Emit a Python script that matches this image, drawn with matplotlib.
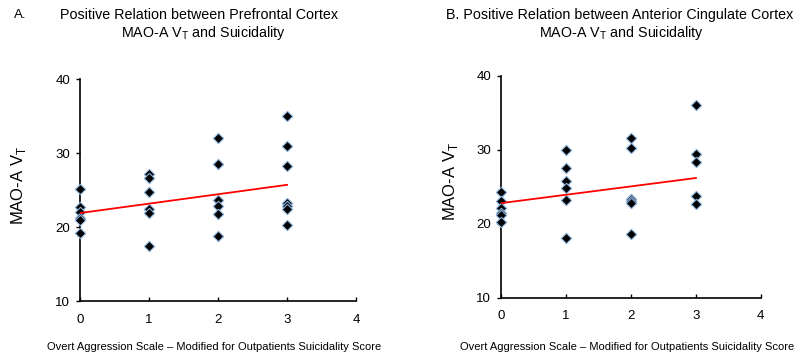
import numpy as np
import matplotlib.pyplot as plt

# Panel A: prefrontal cortex
pfc_x = [0, 0, 0, 0, 0, 0,
         1, 1, 1, 1, 1, 1,
         2, 2, 2, 2, 2, 2,
         3, 3, 3, 3, 3, 3, 3]
pfc_y = [25.1, 22.7, 22.0, 21.2, 20.9, 19.2,
         27.2, 26.6, 24.8, 22.4, 21.9, 17.5,
         32.1, 28.5, 23.6, 22.8, 21.8, 18.8,
         35.0, 31.0, 28.2, 23.2, 22.9, 22.4, 20.3]
pfc_fit = (21.9, 1.27)  # intercept, slope

# Panel B: anterior cingulate cortex
acc_x = [0, 0, 0, 0, 0, 0,
         1, 1, 1, 1, 1, 1,
         2, 2, 2, 2, 2, 2,
         3, 3, 3, 3, 3]
acc_y = [24.3, 23.1, 22.2, 21.5, 21.2, 20.3,
         30.0, 27.6, 25.8, 24.8, 23.2, 18.1,
         31.6, 30.3, 23.3, 23.1, 22.8, 18.7,
         36.0, 29.4, 28.3, 23.8, 22.7]
acc_fit = (22.8, 1.13)

xticks = [0, 1, 2, 3, 4]
yticks = [10, 20, 30, 40]
xlabel = "Overt Aggression Scale \u2013 Modified for Outpatients Suicidality Score"
ylabel = r"MAO-A V$_\mathregular{T}$"

plt.rcParams['font.family'] = ['Liberation Sans', 'DejaVu Sans']
plt.rcParams['mathtext.fontset'] = 'custom'
plt.rcParams['mathtext.rm'] = 'Liberation Sans'

fig = plt.figure(figsize=(8.06, 3.58), dpi=100)
ax1 = fig.add_axes([0.0993, 0.159, 0.3424, 0.620])
ax2 = fig.add_axes([0.6216, 0.1676, 0.3224, 0.621])


def draw(ax, xs, ys, fit):
    ax.scatter(xs, ys, marker='D', s=28, c='black', edgecolors='#8db3dc',
               linewidths=0.8, zorder=3, clip_on=False)
    lx = np.array([0, 3])
    ax.plot(lx, fit[0] + fit[1] * lx, color='red', lw=1.3, zorder=4)
    ax.set_xlim(0, 4)
    ax.set_ylim(10, 40)
    ax.set_xticks(xticks)
    ax.set_yticks(yticks)
    for s in ['top', 'right']:
        ax.spines[s].set_visible(False)
    for s in ['left', 'bottom']:
        ax.spines[s].set_linewidth(1.2)
    ax.tick_params(axis='x', direction='in', length=3, width=1, pad=9, labelsize=9.5)
    ax.tick_params(axis='y', direction='out', length=3, width=1, pad=4, labelsize=9.5)


draw(ax1, pfc_x, pfc_y, pfc_fit)
draw(ax2, acc_x, acc_y, acc_fit)

# titles
tsize = 10.3
fig.text(14 / 806, 1 - 15 / 358, "A.", fontsize=9.5, ha='left', va='center')
fig.text(199 / 806, 1 - 15 / 358, "Positive Relation between Prefrontal Cortex",
         fontsize=tsize, ha='center', va='center')
fig.text(203 / 806, 1 - 33 / 358, r"MAO-A V$_\mathregular{T}$ and Suicidality",
         fontsize=tsize, ha='center', va='center')
fig.text(620 / 806, 1 - 15 / 358, "B. Positive Relation between Anterior Cingulate Cortex",
         fontsize=tsize, ha='center', va='center')
fig.text(621 / 806, 1 - 33 / 358, r"MAO-A V$_\mathregular{T}$ and Suicidality",
         fontsize=tsize, ha='center', va='center')

# axis labels
fig.text(18 / 806, 1 - 185 / 358, ylabel, fontsize=12, rotation=90, ha='center', va='center')
fig.text(450 / 806, 1 - 181 / 358, ylabel, fontsize=12, rotation=90, ha='center', va='center')
fig.text(214 / 806, 1 - 347 / 358, xlabel, fontsize=8, ha='center', va='center')
fig.text(627 / 806, 1 - 347 / 358, xlabel, fontsize=8, ha='center', va='center')

fig.savefig('out.png', dpi=100)
